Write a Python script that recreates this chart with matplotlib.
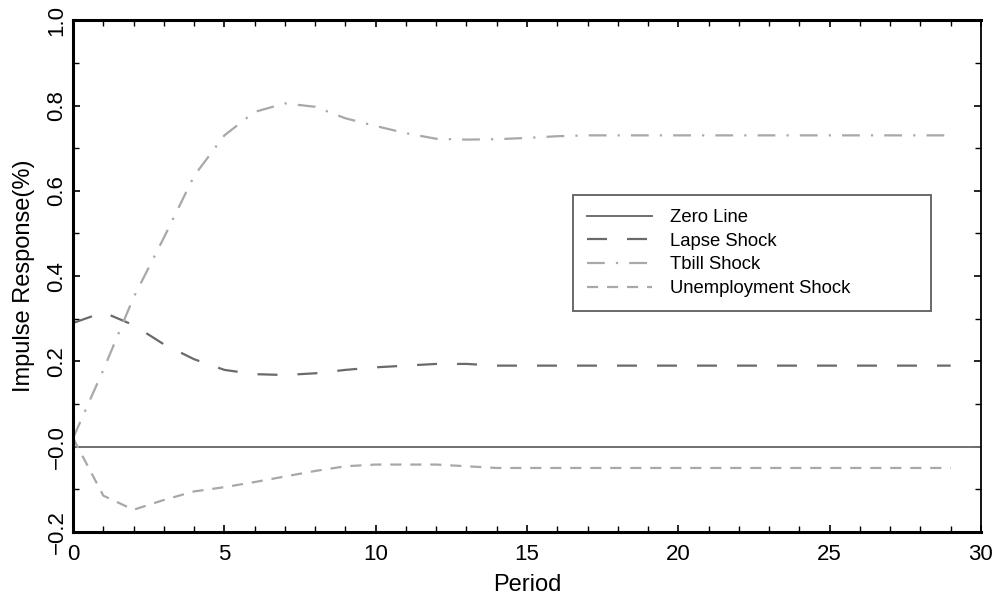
import matplotlib
matplotlib.use("Agg")
import matplotlib.pyplot as plt
from matplotlib.ticker import MultipleLocator, FixedLocator

plt.rcParams['font.family'] = ['Liberation Sans', 'DejaVu Sans']

periods = list(range(0, 30))
lapse = [0.29, 0.315, 0.285, 0.24, 0.205, 0.18, 0.17, 0.168, 0.172, 0.18,
         0.186, 0.19, 0.194, 0.194, 0.19, 0.19, 0.19, 0.19, 0.19, 0.19,
         0.19, 0.19, 0.19, 0.19, 0.19, 0.19, 0.19, 0.19, 0.19, 0.19]
tbill = [0.02, 0.18, 0.35, 0.49, 0.635, 0.73, 0.785, 0.805, 0.797, 0.77,
         0.752, 0.735, 0.722, 0.72, 0.721, 0.724, 0.728, 0.73, 0.73, 0.73,
         0.73, 0.73, 0.73, 0.73, 0.73, 0.73, 0.73, 0.73, 0.73, 0.73]
unemp = [0.02, -0.115, -0.148, -0.125, -0.105, -0.095, -0.083, -0.07, -0.057, -0.046,
         -0.042, -0.042, -0.042, -0.046, -0.05, -0.05, -0.05, -0.05, -0.05, -0.05,
         -0.05, -0.05, -0.05, -0.05, -0.05, -0.05, -0.05, -0.05, -0.05, -0.05]
zero_x = [0, 30]
zero_y = [0, 0]

yticks = [-0.2, 0.0, 0.2, 0.4, 0.6, 0.8, 1.0]
ytick_labels = ["\u22120.2", "\u22120.0", "0.2", "0.4", "0.6", "0.8", "1.0"]
xticks = [0, 5, 10, 15, 20, 25, 30]

fig = plt.figure(figsize=(10.01, 5.95), dpi=100)
ax = fig.add_axes([0.073, 0.106, 0.907, 0.86])

ax.plot(zero_x, zero_y, color='#707070', lw=1.4, label='Zero Line')
ax.plot(periods, lapse, color='#6a6a6a', lw=1.6, linestyle=(0, (9, 9)), label='Lapse Shock')
ax.plot(periods, tbill, color='#a8a8a8', lw=1.6, linestyle=(0, (8, 5, 1, 5)), label='Tbill Shock')
ax.plot(periods, unemp, color='#a8a8a8', lw=1.6, linestyle=(0, (5, 4)), label='Unemployment Shock')

ax.set_xlim(0, 30)
ax.set_ylim(-0.2, 1.0)
ax.set_xticks(xticks)
ax.xaxis.set_minor_locator(MultipleLocator(1))
ax.yaxis.set_major_locator(FixedLocator(yticks))
ax.set_yticklabels(ytick_labels, rotation=90, va='center')
ax.yaxis.set_minor_locator(MultipleLocator(0.1))
ax.tick_params(which='both', direction='in', top=True, right=True, labelsize=16)
ax.tick_params(which='major', length=5, width=1.2)
ax.tick_params(which='minor', length=4, width=1.0)
ax.tick_params(axis='x', pad=9)
ax.tick_params(axis='y', pad=4)

for side in ['left', 'bottom', 'top']:
    ax.spines[side].set_linewidth(2.2)
ax.spines['right'].set_linewidth(1.3)

ax.set_xlabel('Period', fontsize=17, labelpad=6)
ax.set_ylabel('Impulse Response(%)', fontsize=17, labelpad=8)

leg = ax.legend(loc='upper left', bbox_to_anchor=(0.551, 0.43, 0.394, 0.228),
                mode='expand', fontsize=13.3,
                frameon=True, fancybox=False, edgecolor='#444444', borderpad=0.75,
                handlelength=3.5, handletextpad=1.0, labelspacing=0.36,
                borderaxespad=0)
leg.get_frame().set_linewidth(1.4)
leg.get_frame().set_facecolor('white')

fig.savefig('out.png', dpi=100)
